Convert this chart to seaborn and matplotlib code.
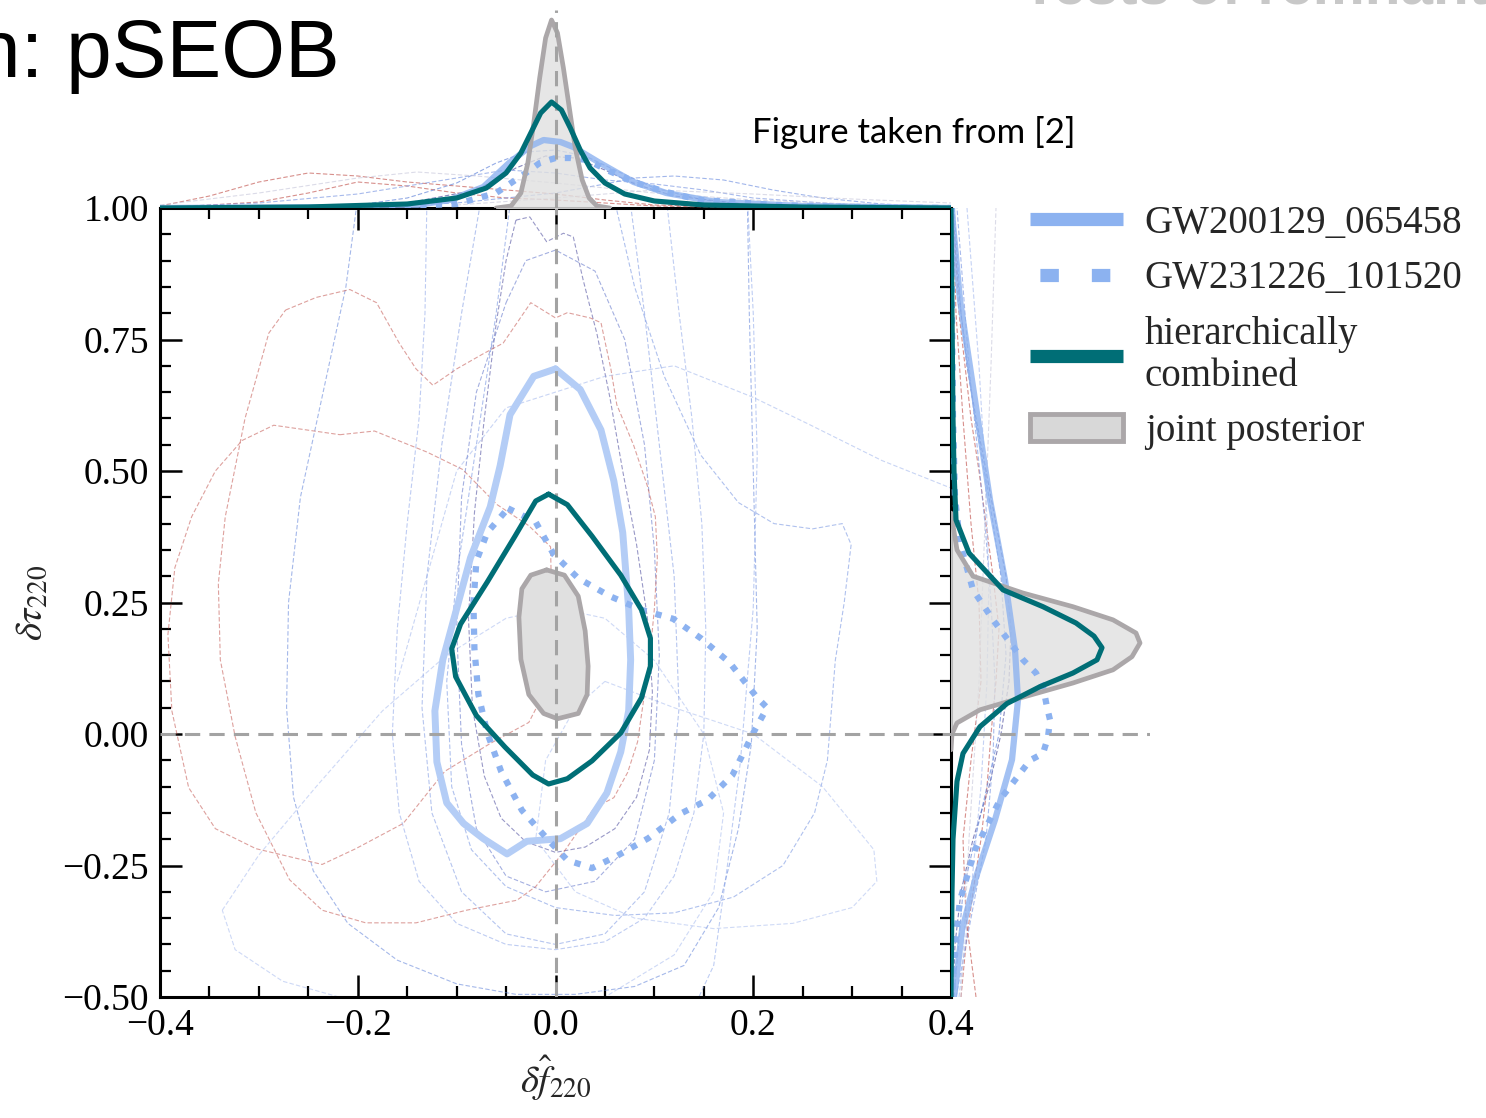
import matplotlib
matplotlib.use("Agg")
import matplotlib.pyplot as plt
import seaborn as sns
from matplotlib.lines import Line2D
from matplotlib.patches import Patch
from matplotlib.ticker import MultipleLocator

# ---------------- data ----------------
# 90% credible contours in the (df220, dtau220) plane
joint_x = [-0.009, 0.009, 0.023, 0.030, 0.033, 0.032, 0.023, 0.002, -0.012, -0.027, -0.035, -0.037, -0.034, -0.025, -0.009]
joint_y = [0.312, 0.302, 0.262, 0.196, 0.129, 0.075, 0.039, 0.029, 0.039, 0.075, 0.142, 0.222, 0.276, 0.302, 0.312]

hier_x = [-0.007, 0.012, 0.037, 0.066, 0.087, 0.096, 0.096, 0.087, 0.066, 0.037, 0.012, -0.007, -0.023,
          -0.051, -0.080, -0.101, -0.105, -0.096, -0.069, -0.041, -0.020, -0.007]
hier_y = [0.456, 0.436, 0.376, 0.302, 0.236, 0.182, 0.129, 0.069, 0.002, -0.051, -0.085, -0.095, -0.078,
          -0.025, 0.035, 0.109, 0.162, 0.209, 0.289, 0.376, 0.443, 0.456]

gw200129_x = [0.000, 0.025, 0.046, 0.059, 0.068, 0.074, 0.076, 0.074, 0.066, 0.052, 0.032, 0.005, -0.029,
              -0.049, -0.073, -0.093, -0.110, -0.120, -0.122, -0.114, -0.100, -0.086, -0.066, -0.056,
              -0.046, -0.022, 0.000]
gw200129_y = [0.694, 0.655, 0.578, 0.481, 0.383, 0.238, 0.141, 0.044, -0.034, -0.112, -0.170, -0.199, -0.204,
              -0.228, -0.199, -0.170, -0.131, -0.053, 0.044, 0.141, 0.238, 0.335, 0.432, 0.510,
              0.607, 0.680, 0.694]

gw231226_x = [-0.048, -0.020, -0.002, 0.023, 0.055, 0.087, 0.119, 0.147, 0.176, 0.204, 0.214, 0.200, 0.193,
              0.179, 0.154, 0.126, 0.094, 0.062, 0.037, 0.012, -0.009, -0.034, -0.055, -0.069, -0.078,
              -0.082, -0.083, -0.080, -0.069, -0.048]
gw231226_y = [0.429, 0.403, 0.342, 0.296, 0.262, 0.236, 0.219, 0.182, 0.136, 0.069, 0.050, 0.002, -0.025,
              -0.078, -0.125, -0.152, -0.198, -0.232, -0.255, -0.240, -0.198, -0.145, -0.071, 0.002, 0.075,
              0.162, 0.249, 0.329, 0.383, 0.429]

# individual events (thin dashed contours): (colour, x, y)
event_contours = [
    ("#45459a",
     [-0.040, -0.026, -0.009, 0.008, 0.018, 0.028, 0.042, 0.055, 0.068, 0.082, 0.093, 0.098, 0.095, 0.082, 0.060,
      0.030, 0.000, -0.030, -0.055, -0.072, -0.084, -0.088, -0.082, -0.072, -0.060, -0.050, -0.040],
     [0.977, 0.983, 0.936, 0.952, 0.945, 0.863, 0.760, 0.640, 0.500, 0.360, 0.220, 0.080, -0.030, -0.120, -0.180,
      -0.215, -0.225, -0.205, -0.160, -0.080, 0.050, 0.220, 0.420, 0.600, 0.780, 0.900, 0.977]),
    ("#5b7fd8",
     [-0.200, -0.212, -0.235, -0.258, -0.270, -0.272, -0.265, -0.245, -0.210, -0.160, -0.100, -0.040, 0.020, 0.080,
      0.130, 0.165, 0.185, 0.198, 0.204, 0.200, 0.196, 0.194],
     [1.020, 0.850, 0.650, 0.450, 0.250, 0.050, -0.120, -0.260, -0.360, -0.430, -0.475, -0.495, -0.495, -0.480,
      -0.440, -0.330, -0.180, -0.020, 0.200, 0.500, 0.800, 1.020]),
    ("#8aa3e8",
     [-0.130, -0.132, -0.138, -0.150, -0.160, -0.165, -0.158, -0.138, -0.100, -0.050, 0.000, 0.050, 0.090, 0.120,
      0.140, 0.150, 0.152, 0.148, 0.138, 0.125, 0.112],
     [1.020, 0.800, 0.600, 0.400, 0.200, 0.000, -0.150, -0.280, -0.360, -0.400, -0.410, -0.395, -0.350, -0.270,
      -0.150, 0.000, 0.200, 0.400, 0.600, 0.800, 1.020]),
    ("#6f8fe0",
     [0.059, 0.080, 0.110, 0.147, 0.185, 0.221, 0.260, 0.290, 0.299, 0.292, 0.283, 0.275, 0.262, 0.230, 0.180,
      0.120, 0.060, 0.000, -0.050, -0.085, -0.105, -0.110, -0.100, -0.080, -0.060, -0.045],
     [1.020, 0.850, 0.680, 0.530, 0.440, 0.400, 0.390, 0.400, 0.360, 0.250, 0.140, -0.050, -0.150, -0.250, -0.310,
      -0.340, -0.345, -0.330, -0.290, -0.220, -0.100, 0.100, 0.300, 0.550, 0.800, 1.020]),
    ("#a6baef",
     [-0.337, -0.300, -0.242, -0.175, -0.110, -0.050, 0.000, 0.050, 0.100, 0.150, 0.170, 0.160, 0.120, 0.050,
      -0.030, -0.120, -0.200, -0.276, -0.324, -0.337],
     [-0.335, -0.230, -0.100, 0.044, 0.150, 0.220, 0.240, 0.220, 0.140, 0.000, -0.150, -0.300, -0.420, -0.500,
      -0.540, -0.540, -0.510, -0.470, -0.410, -0.335]),
    ("#8aa5ea",
     [0.194, 0.200, 0.204, 0.200, 0.187, 0.174, 0.160, 0.140],
     [1.020, 0.800, 0.530, 0.240, -0.053, -0.248, -0.440, -0.520]),
    ("#a8bcef",
     [0.050, 0.120, 0.200, 0.270, 0.322, 0.325, 0.300, 0.240, 0.160, 0.080, 0.020, -0.020, -0.010, 0.020, 0.050],
     [0.100, 0.050, 0.000, -0.100, -0.220, -0.280, -0.330, -0.360, -0.370, -0.350, -0.300, -0.200, -0.050, 0.050,
      0.100]),
    ("#9db3ec",
     [-0.160, -0.130, -0.100, -0.050, 0.050, 0.120, 0.200, 0.255, 0.330, 0.410],
     [0.100, 0.300, 0.500, 0.620, 0.680, 0.700, 0.640, 0.590, 0.520, 0.460]),
    ("#7a96e2",
     [-0.075, -0.095, -0.115, -0.130, -0.135, -0.125, -0.095, -0.050, 0.000, 0.050, 0.090, 0.115, 0.125, 0.120,
      0.105, 0.090, 0.075],
     [1.020, 0.800, 0.550, 0.300, 0.050, -0.150, -0.300, -0.380, -0.400, -0.380, -0.300, -0.150, 0.050, 0.300,
      0.550, 0.800, 1.020]),
    ("#5a6fc8",
     [-0.050, -0.030, 0.000, 0.040, 0.070, 0.090, 0.100, 0.105, 0.100, 0.080, 0.040, -0.010, -0.050, -0.080,
      -0.095, -0.100, -0.095, -0.080, -0.050],
     [0.820, 0.900, 0.920, 0.880, 0.750, 0.550, 0.350, 0.150, -0.050, -0.200, -0.280, -0.300, -0.270, -0.180,
      -0.020, 0.200, 0.450, 0.650, 0.820]),
    ("#c2544e",
     [-0.218, -0.183, -0.130, -0.094, -0.059, -0.027, -0.005, -0.004, -0.005, -0.016, -0.027, -0.066, -0.112,
      -0.154, -0.202, -0.236, -0.303, -0.344, -0.371, -0.388, -0.392, -0.385, -0.368, -0.344, -0.317, -0.285,
      -0.218],
     [0.569, 0.576, 0.536, 0.503, 0.436, 0.396, 0.356, 0.262, 0.129, 0.062, 0.022, -0.018, -0.071,
      -0.170, -0.218, -0.248, -0.218, -0.180, -0.102, 0.044, 0.189, 0.316, 0.413, 0.500, 0.558, 0.587,
      0.569]),
    ("#c2544e",
     [-0.273, -0.242, -0.208, -0.181, -0.158, -0.141, -0.124, -0.100, -0.073, -0.053, -0.025, 0.000, 0.012, 0.035,
      0.046, 0.056, 0.062, 0.079, 0.093, 0.101, 0.103, 0.100, 0.096, 0.089, 0.083, 0.073, 0.059, 0.039, 0.010,
      -0.020, -0.039, -0.090, -0.141, -0.192, -0.236, -0.269, -0.303, -0.324, -0.339, -0.341, -0.334, -0.314,
      -0.300, -0.290, -0.273],
     [0.806, 0.830, 0.845, 0.820, 0.743, 0.694, 0.663, 0.694, 0.723, 0.743, 0.820, 0.791, 0.801, 0.791,
      0.782, 0.694, 0.626, 0.549, 0.471, 0.413, 0.335, 0.238, 0.160, 0.063, -0.015, -0.073, -0.121, -0.141, -0.220,
      -0.290, -0.316, -0.335, -0.359, -0.359, -0.335, -0.277, -0.150, -0.005, 0.141, 0.286, 0.413, 0.600,
      0.694, 0.762, 0.806]),
]

# marginal densities (arbitrary height units) on the top panel: x, height
top_joint_x = [-0.060, -0.045, -0.035, -0.028, -0.022, -0.016, -0.010, -0.004, 0.002, 0.008, 0.014, 0.020, 0.027, 0.034, 0.042, 0.055]
top_joint_h = [0, 2, 15, 45, 85, 130, 170, 188, 175, 140, 100, 60, 28, 10, 2, 0]
top_hier_x = [-0.40, -0.25, -0.15, -0.10, -0.07, -0.05, -0.035, -0.025, -0.015, -0.004, 0.006, 0.015, 0.025, 0.035, 0.05, 0.07, 0.10, 0.15, 0.25, 0.40]
top_hier_h = [0, 1, 4, 10, 20, 35, 55, 75, 95, 106, 98, 80, 58, 40, 25, 14, 7, 3, 1, 0]
top_gw1_x = [-0.40, -0.20, -0.14, -0.107, -0.073, -0.047, -0.025, -0.012, 0.005, 0.018, 0.045, 0.079, 0.112, 0.163, 0.25, 0.40]
top_gw1_h = [0, 1, 3, 8, 21, 45, 62, 68, 66, 61, 45, 26, 15, 6, 2, 0]
top_gw2_x = [-0.20, -0.10, -0.06, -0.03, -0.016, 0.000, 0.015, 0.032, 0.052, 0.079, 0.112, 0.146, 0.18, 0.22, 0.30, 0.40]
top_gw2_h = [0.5, 4, 15, 35, 45, 50, 50, 48, 38, 26, 16, 8, 6, 3, 1, 0]
top_events = [
    ("#c2544e", [-0.40, -0.35, -0.30, -0.25, -0.20, -0.15, -0.10, -0.05, 0.00, 0.05, 0.10, 0.20, 0.30],
     [2, 12, 26, 35, 32, 26, 22, 18, 14, 8, 3, 0.5, 0]),
    ("#c2544e", [-0.40, -0.30, -0.25, -0.20, -0.15, -0.10, -0.05, 0.00, 0.05, 0.10, 0.20],
     [0, 6, 15, 26, 22, 15, 10, 8, 5, 2, 0]),
    ("#5b7fd8", [-0.30, -0.20, -0.15, -0.10, -0.06, -0.03, 0.00, 0.03, 0.06, 0.10, 0.15, 0.20, 0.30],
     [0.5, 3, 10, 25, 45, 56, 58, 52, 38, 20, 8, 3, 0.5]),
    ("#7a96e2", [-0.40, -0.30, -0.20, -0.10, -0.05, 0.00, 0.05, 0.10, 0.15, 0.20, 0.30, 0.40],
     [1, 5, 14, 30, 38, 35, 28, 24, 18, 10, 3, 1]),
    ("#6f8fe0", [-0.20, -0.10, 0.00, 0.05, 0.08, 0.12, 0.17, 0.22, 0.27, 0.33, 0.40],
     [1, 5, 15, 24, 30, 32, 28, 18, 10, 4, 1]),
    ("#45459a", [-0.30, -0.15, -0.08, -0.04, -0.01, 0.02, 0.05, 0.08, 0.12, 0.20, 0.30],
     [0.5, 5, 18, 40, 52, 50, 38, 24, 12, 3, 0.5]),
    ("#c9c9dc", [-0.40, -0.30, -0.20, -0.14, -0.08, 0.00, 0.10, 0.20, 0.30, 0.40],
     [3, 15, 30, 36, 32, 25, 15, 8, 4, 2]),
    ("#c9c9dc", [-0.10, 0.00, 0.10, 0.20, 0.30, 0.40],
     [3, 10, 18, 14, 9, 5]),
]

# marginal densities on the right panel: y, width
right_joint_y = [0.42, 0.35, 0.30, 0.268, 0.242, 0.217, 0.192, 0.173, 0.147, 0.122, 0.097, 0.070, 0.046, 0.021, 0.000, -0.03]
right_joint_w = [0, 6, 22, 72, 122, 162, 185, 189, 181, 162, 122, 72, 29, 6, 1, 0]
right_hier_y = [1.00, 0.60, 0.50, 0.407, 0.344, 0.274, 0.242, 0.211, 0.186, 0.164, 0.141, 0.116, 0.090, 0.058, 0.014, -0.037, -0.09, -0.20, -0.30, -0.50]
right_hier_w = [0, 2, 3, 5, 18, 52, 92, 125, 143, 151, 146, 122, 89, 56, 29, 12, 6, 2, 1, 0]
right_gw1_y = [1.00, 0.97, 0.825, 0.635, 0.445, 0.293, 0.160, 0.065, -0.049, -0.163, -0.278, -0.373, -0.487, -0.50]
right_gw1_w = [1, 2, 9, 24, 39, 54, 64, 67, 61, 44, 24, 11, 4, 3]
right_gw2_y = [1.00, 0.60, 0.45, 0.363, 0.274, 0.217, 0.141, 0.116, 0.090, 0.051, 0.027, -0.006, -0.037, -0.050, -0.125, -0.220, -0.316, -0.40, -0.50]
right_gw2_w = [0, 2, 4, 9, 22, 42, 72, 85, 92, 96, 99, 97, 92, 79, 49, 24, 9, 4, 1]
right_events = [
    ("#45459a", [-0.5, -0.4, -0.3, -0.2, -0.1, 0.0, 0.1, 0.2, 0.3, 0.4, 0.5, 0.6, 0.7, 0.8, 0.9, 1.0],
     [2, 4, 10, 22, 38, 50, 58, 60, 55, 45, 35, 25, 16, 10, 5, 2]),
    ("#c2544e", [-0.5, -0.4, -0.3, -0.2, -0.1, 0.0, 0.1, 0.2, 0.3, 0.4, 0.5, 0.6, 0.8, 1.0],
     [10, 15, 22, 30, 36, 40, 45, 48, 42, 35, 28, 20, 8, 2]),
    ("#5b7fd8", [-0.5, -0.3, -0.15, 0.0, 0.15, 0.3, 0.45, 0.6, 0.8, 1.0],
     [3, 12, 30, 48, 55, 50, 38, 24, 10, 3]),
    ("#7a96e2", [-0.5, -0.35, -0.2, -0.05, 0.1, 0.25, 0.4, 0.55, 0.7, 0.85, 1.0],
     [5, 20, 35, 42, 44, 40, 34, 26, 18, 12, 6]),
    ("#a6baef", [-0.5, -0.3, -0.1, 0.1, 0.3, 0.5, 0.7, 0.9, 1.0],
     [8, 20, 30, 36, 38, 34, 28, 20, 16]),
    ("#c2544e", [-0.5, -0.35, -0.2, -0.05, 0.1, 0.25, 0.4, 0.6, 0.8, 1.0],
     [25, 15, 12, 20, 30, 28, 20, 12, 5, 2]),
    ("#c9c9dc", [-0.5, -0.2, 0.1, 0.4, 0.7, 1.0],
     [10, 18, 28, 34, 40, 45]),
]

x_ticks = [-0.4, -0.2, 0.0, 0.2, 0.4]
x_ticklabels = ["\u22120.4", "\u22120.2", "0.0", "0.2", "0.4"]
y_ticks = [-0.5, -0.25, 0.0, 0.25, 0.5, 0.75, 1.0]
y_ticklabels = ["\u22120.50", "\u22120.25", "0.00", "0.25", "0.50", "0.75", "1.00"]

legend_labels = ["GW200129_065458", "GW231226_101520", "hierarchically\ncombined", "joint posterior"]

# ---------------- style ----------------
c_gw = "#8cb2f0"
c_gw_contour = "#b4cdf6"
c_teal = "#006e76"
c_gray_edge = "#aba7a9"
c_gray_fill = "#e0e0e0"
c_zero = "#a3a3a3"
thin_ls = (0, (4, 2))
dotted_ls = (0, (1.0, 1.5))

sns.set_style("ticks")
plt.rcParams["font.family"] = ["Liberation Serif", "DejaVu Serif"]
plt.rcParams["mathtext.fontset"] = "stix"

fig = plt.figure(figsize=(14.86, 11.18), dpi=100)
ax = fig.add_axes([160 / 1486, 1 - 997 / 1118, 791 / 1486, 789 / 1118])
ax_top = fig.add_axes([160 / 1486, 1 - 208 / 1118, 791 / 1486, 198 / 1118])
ax_right = fig.add_axes([951 / 1486, 1 - 997 / 1118, 199 / 1486, 789 / 1118])

# ---------------- main panel ----------------
for col, xs, ys in event_contours:
    sns.lineplot(x=xs, y=ys, sort=False, estimator=None, ax=ax, color=col, lw=0.8,
                 linestyle=thin_ls, alpha=0.55, zorder=2)

sns.lineplot(x=gw200129_x, y=gw200129_y, sort=False, estimator=None, ax=ax,
             color=c_gw_contour, lw=5, zorder=3)
sns.lineplot(x=gw231226_x, y=gw231226_y, sort=False, estimator=None, ax=ax,
             color=c_gw, lw=4.5, linestyle=dotted_ls, dash_capstyle="butt", zorder=3)
ax.fill(joint_x, joint_y, color=c_gray_fill, zorder=3)
sns.lineplot(x=joint_x, y=joint_y, sort=False, estimator=None, ax=ax,
             color=c_gray_edge, lw=3.4, zorder=4)
ax.axvline(0, color=c_zero, lw=2.2, ls=(0, (5, 3)), zorder=4)
ax.axhline(0, color=c_zero, lw=2.2, ls=(0, (5, 3)), zorder=4)
sns.lineplot(x=hier_x, y=hier_y, sort=False, estimator=None, ax=ax,
             color=c_teal, lw=3.7, zorder=5)

ax.set_xlim(-0.4, 0.4)
ax.set_ylim(-0.5, 1.0)
ax.set_xticks(x_ticks)
ax.set_xticklabels(x_ticklabels)
ax.set_yticks(y_ticks)
ax.set_yticklabels(y_ticklabels)
ax.xaxis.set_minor_locator(MultipleLocator(0.05))
ax.yaxis.set_minor_locator(MultipleLocator(0.05))
ax.tick_params(which="major", direction="in", length=16, width=1.8, top=True, right=True,
               labelsize=27, pad=8, color="black", labelcolor="black")
ax.tick_params(which="minor", direction="in", length=8, width=1.6, top=True, right=True, color="black")
for sp in ax.spines.values():
    sp.set_linewidth(2.2)
    sp.set_color("black")
ax.set_xlabel(r"$\delta\hat{f}_{220}$", fontsize=28, labelpad=8)
ax.set_ylabel(r"$\delta\tau_{220}$", fontsize=28, labelpad=8)

# ---------------- top marginal ----------------
for col, xs, hs in top_events:
    sns.lineplot(x=xs, y=hs, sort=False, estimator=None, ax=ax_top, color=col, lw=0.8,
                 linestyle=thin_ls, alpha=0.65, zorder=2)
ax_top.fill_between(top_joint_x, 0, top_joint_h, color=c_gray_fill, alpha=0.8, zorder=3)
sns.lineplot(x=top_joint_x, y=top_joint_h, sort=False, estimator=None, ax=ax_top,
             color=c_gray_edge, lw=3.4, zorder=4)
sns.lineplot(x=top_gw1_x, y=top_gw1_h, sort=False, estimator=None, ax=ax_top,
             color=c_gw, lw=4.5, alpha=0.8, zorder=3)
sns.lineplot(x=top_gw2_x, y=top_gw2_h, sort=False, estimator=None, ax=ax_top,
             color=c_gw, lw=4.5, linestyle=dotted_ls, dash_capstyle="butt", zorder=3)
ax_top.axvline(0, color=c_zero, lw=2.2, ls=(0, (5, 3)), zorder=4)
sns.lineplot(x=top_hier_x, y=top_hier_h, sort=False, estimator=None, ax=ax_top,
             color=c_teal, lw=3.7, zorder=5)
ax_top.set_xlim(-0.4, 0.4)
ax_top.set_ylim(0, 198)
ax_top.axis("off")

# ---------------- right marginal ----------------
for col, ys, ws in right_events:
    sns.lineplot(x=ws, y=ys, sort=False, estimator=None, ax=ax_right, color=col, lw=0.8,
                 linestyle=thin_ls, alpha=0.65, zorder=2)
ax_right.fill_betweenx(right_joint_y, 0, right_joint_w, color=c_gray_fill, alpha=0.8, zorder=3)
sns.lineplot(x=right_joint_w, y=right_joint_y, sort=False, estimator=None, ax=ax_right,
             color=c_gray_edge, lw=3.4, zorder=4)
sns.lineplot(x=right_gw1_w, y=right_gw1_y, sort=False, estimator=None, ax=ax_right,
             color=c_gw, lw=4.5, alpha=0.8, zorder=3)
sns.lineplot(x=right_gw2_w, y=right_gw2_y, sort=False, estimator=None, ax=ax_right,
             color=c_gw, lw=4.5, linestyle=dotted_ls, dash_capstyle="butt", zorder=3)
ax_right.axhline(0, color=c_zero, lw=2.2, ls=(0, (5, 3)), zorder=4)
sns.lineplot(x=right_hier_w, y=right_hier_y, sort=False, estimator=None, ax=ax_right,
             color=c_teal, lw=3.7, zorder=5)
ax_right.set_ylim(-0.5, 1.0)
ax_right.set_xlim(0, 199)
ax_right.axis("off")

# ---------------- legend ----------------
handles = [
    Line2D([], [], color=c_gw, lw=9.5, solid_capstyle="butt"),
    Line2D([], [], color=c_gw, lw=9.5, linestyle=(3.15, (1.4, 2.5)), dash_capstyle="butt"),
    Line2D([], [], color=c_teal, lw=9.5, solid_capstyle="butt"),
    Patch(facecolor="#d8d8d8", edgecolor=c_gray_edge, linewidth=3.5),
]
fig.legend(handles, legend_labels, loc="upper left", bbox_to_anchor=(1030 / 1486, 1 - 205 / 1118),
           frameon=False, fontsize=28, handlelength=2.4, handletextpad=0.55, labelspacing=0.47,
           borderaxespad=0, borderpad=0)

# ---------------- slide texts ----------------
fig.text(-0.017, 1 - 77 / 1118, "n: pSEOB", fontsize=59, family="Liberation Sans",
         va="baseline", ha="left", color="black")
fig.text(752 / 1486, 1 - 143 / 1118, "Figure taken from [2]", fontsize=25, family="Lato",
         va="baseline", ha="left", color="black")
fig.text(1022 / 1486, 1 - 3 / 1118, "Tests of remnants", fontsize=42, family="Liberation Sans",
         fontweight="bold", va="baseline", ha="left", color="#c8c8c8")

fig.savefig("out.png", dpi=100)
